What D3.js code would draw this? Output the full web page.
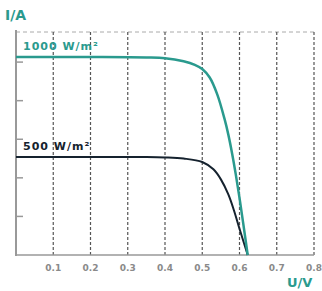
<!DOCTYPE html>
<html><head><meta charset="utf-8">
<script src="https://cdn.jsdelivr.net/npm/d3@7"></script>
<style>body{margin:0;background:#fff}svg{display:block}</style>
</head><body>
<svg id="c" width="322" height="291"></svg>
<script>
const xTicks = [0.1,0.2,0.3,0.4,0.5,0.6,0.7,0.8];
const yTicks = [1,2,3,4,5];
const volt1000 = [0,0.2,0.35,0.4,0.45,0.48,0.5,0.52,0.54,0.56,0.57,0.58,0.59,0.6,0.61,0.622];
const curr1000 = [5.13,5.13,5.12,5.1,5.02,4.93,4.82,4.6,4.17,3.52,3.12,2.64,2.09,1.48,0.82,0];
const volt500 = [0,0.2,0.35,0.4,0.45,0.5,0.53,0.55,0.57,0.585,0.6,0.622];
const curr500 = [2.54,2.54,2.54,2.53,2.5,2.41,2.22,1.96,1.57,1.16,0.68,0];
const labels = ["1000 W/m²","500 W/m²"];

const svg = d3.select("#c");
const x = d3.scaleLinear().domain([0,0.8]).range([16,314]);
const y = d3.scaleLinear().domain([0,5.78]).range([255,32]);
const teal = "#2a9a8e", dark = "#15222e";

svg.append("line").attr("x1",16).attr("x2",x(0.8)).attr("y1",y(5.78)).attr("y2",y(5.78))
  .attr("stroke","#aaa").attr("stroke-width",1).attr("stroke-dasharray","4,3");
svg.append("g").selectAll("line").data(xTicks).join("line")
  .attr("x1",d=>x(d)).attr("x2",d=>x(d)).attr("y1",y(5.78)).attr("y2",y(0))
  .attr("stroke","#555").attr("stroke-width",1.2).attr("stroke-dasharray","3,2");
svg.append("line").attr("x1",16).attr("x2",x(0.8)).attr("y1",y(0)).attr("y2",y(0))
  .attr("stroke","#999").attr("stroke-width",1.5);
svg.append("line").attr("x1",16).attr("x2",16).attr("y1",30).attr("y2",y(0)+1)
  .attr("stroke","#999").attr("stroke-width",2);
svg.append("g").selectAll("line").data(yTicks).join("line")
  .attr("x1",16).attr("x2",23).attr("y1",d=>y(d)).attr("y2",d=>y(d))
  .attr("stroke","#999").attr("stroke-width",1.5);
svg.append("g").selectAll("text").data(xTicks).join("text")
  .attr("x",d=>x(d)).attr("y",271).attr("text-anchor","middle")
  .attr("font-family","DejaVu Sans").attr("font-weight","bold").attr("font-size",9)
  .attr("fill","#8a8a8a").text(d=>d.toFixed(1));
const line = d3.line().x(d=>x(d[0])).y(d=>y(d[1])).curve(d3.curveCatmullRom.alpha(0.5));
svg.append("path").datum(volt500.map((v,i)=>[v,curr500[i]])).attr("d",line)
  .attr("fill","none").attr("stroke",dark).attr("stroke-width",2);
svg.append("path").datum(volt1000.map((v,i)=>[v,curr1000[i]])).attr("d",line)
  .attr("fill","none").attr("stroke",teal).attr("stroke-width",2.5);
svg.append("text").attr("x",23).attr("y",50).attr("font-family","DejaVu Sans").attr("font-weight","bold")
  .attr("font-size",11).attr("letter-spacing",1).attr("fill",teal).text(labels[0]);
svg.append("text").attr("x",23).attr("y",149.5).attr("font-family","DejaVu Sans").attr("font-weight","bold")
  .attr("font-size",11).attr("letter-spacing",1).attr("fill",dark).text(labels[1]);
svg.append("text").attr("x",5).attr("y",20).attr("font-family","DejaVu Sans").attr("font-weight","bold")
  .attr("font-size",14).attr("fill",teal).text("I/A");
svg.append("text").attr("x",287).attr("y",287).attr("font-family","DejaVu Sans").attr("font-weight","bold")
  .attr("font-size",13).attr("fill",teal).text("U/V");
</script>
</body></html>
